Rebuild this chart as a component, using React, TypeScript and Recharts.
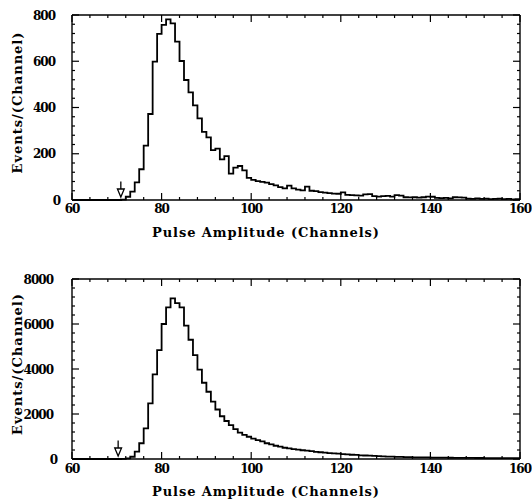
import { ComposedChart, Line, XAxis, YAxis, ReferenceDot } from 'recharts'

// Histogram bins are 1 channel wide, starting at channel 60.
const FIRST_CHANNEL = 60

const X_TICKS = [
  60, 64, 68, 72, 76, 80, 84, 88, 92, 96, 100, 104, 108, 112, 116, 120, 124, 128, 132, 136, 140,
  144, 148, 152, 156, 160,
]
const TOP_Y_TICKS = [
  0, 40, 80, 120, 160, 200, 240, 280, 320, 360, 400, 440, 480, 520, 560, 600, 640, 680, 720, 760, 800,
]
const BOTTOM_Y_TICKS = [
  0, 400, 800, 1200, 1600, 2000, 2400, 2800, 3200, 3600, 4000, 4400, 4800, 5200, 5600, 6000, 6400,
  6800, 7200, 7600, 8000,
]

// counts per channel, 60..159
const TOP_COUNTS = [
  0, 0, 0, 0, 0, 0, 0, 0, 0, 0, 0, 2,
  14, 36, 76, 133, 235, 372, 598, 718, 757, 781, 764, 685, 601, 519, 465, 409, 353, 295,
  271, 216, 222, 176, 190, 114, 140, 147, 128, 96, 87, 82, 78, 75, 69, 63, 56, 50,
  62, 50, 45, 42, 58, 40, 38, 34, 32, 30, 28, 27, 33, 22, 21, 20, 19, 24, 25, 17,
  15, 17, 18, 15, 21, 19, 12, 11, 12, 10, 12, 15, 14, 9, 8, 9, 7, 12, 11, 10,
  6, 5, 7, 5, 6, 4, 5, 6, 4, 5, 3, 4,
]
const BOTTOM_COUNTS = [
  0, 0, 0, 0, 0, 0, 0, 0, 0, 0, 0, 10,
  30, 100, 330, 700, 1360, 2470, 3760, 4840, 6000, 6740, 7140, 6930, 6740, 5930, 5300, 4620,
  3970, 3390, 2990, 2550, 2200, 1900, 1690, 1510, 1330, 1170, 1070, 990, 910, 840, 780, 700,
  650, 590, 550, 500, 470, 440, 420, 390, 370, 350, 320, 300, 285, 265, 250, 240, 220, 205,
  190, 180, 165, 155, 148, 140, 125, 115, 108, 102, 98, 92, 85, 80, 76, 74, 70, 68, 64, 60,
  58, 57, 55, 52, 50, 50, 48, 46, 45, 44, 42, 42, 40, 40, 39, 38, 37, 36,
]

// threshold arrows (channel)
const TOP_ARROW_CH = 70.9
const BOTTOM_ARROW_CH = 70.3

const X_TITLE = 'Pulse Amplitude (Channels)'
const Y_TITLE = 'Events/(Channel)'

const FONT = '"DejaVu Serif", serif'
const INK = '#000'

function toRows(counts: number[]) {
  const rows = counts.map((n, i) => ({ ch: FIRST_CHANNEL + i, n }))
  // closing point so the last bin gets its full width with stepAfter
  rows.push({ ch: FIRST_CHANNEL + counts.length, n: counts[counts.length - 1] })
  return rows
}

const MAJOR_LEN = 7
const MINOR_LEN = 3

interface PanelProps {
  counts: number[]
  yTicks: number[]
  yMax: number
  yMajor: number
  height: number
  marginTop: number
  xAxisHeight: number
  arrowCh: number
  yLabelGap: number
  zeroShift: number
  xLabelBaseline: number
  xTitleBaseline: number
}

function Panel(p: PanelProps) {
  const data = toRows(p.counts)

  const bottomTick = (props: any) => {
    const { x, y, payload } = props
    const v = payload.value as number
    const major = v % 20 === 0
    return (
      <g>
        <line x1={x} x2={x} y1={y} y2={y - (major ? MAJOR_LEN : MINOR_LEN)} stroke={INK} strokeWidth={1.2} />
        {major ? (
          <text
            x={x}
            y={y + p.xLabelBaseline}
            textAnchor="middle"
            fontFamily={FONT}
            fontWeight="bold"
            fontSize={12}
            letterSpacing={-1}
            fill={INK}
          >
            {v}
          </text>
        ) : null}
      </g>
    )
  }

  const topTick = (props: any) => {
    const { x, y, payload } = props
    const major = (payload.value as number) % 20 === 0
    return <line x1={x} x2={x} y1={y} y2={y + (major ? MAJOR_LEN : MINOR_LEN)} stroke={INK} strokeWidth={1.2} />
  }

  const leftTick = (props: any) => {
    const { x, y, payload } = props
    const v = payload.value as number
    const major = v % p.yMajor === 0
    return (
      <g>
        <line x1={x} x2={x + (major ? MAJOR_LEN : MINOR_LEN)} y1={y} y2={y} stroke={INK} strokeWidth={1.2} />
        {major ? (
          <text
            x={x - p.yLabelGap + (v === 0 ? p.zeroShift : 0)}
            y={y + 4.5}
            textAnchor="end"
            fontFamily={FONT}
            fontWeight="bold"
            fontSize={12}
            letterSpacing={-1}
            fill={INK}
          >
            {v}
          </text>
        ) : null}
      </g>
    )
  }

  const rightTick = (props: any) => {
    const { x, y, payload } = props
    const major = (payload.value as number) % p.yMajor === 0
    return <line x1={x} x2={x - (major ? MAJOR_LEN : MINOR_LEN)} y1={y} y2={y} stroke={INK} strokeWidth={1.2} />
  }

  const yTitle = (props: any) => {
    const vb = props.viewBox ?? { y: p.marginTop, height: 180 }
    const cx = 17.5
    const cy = vb.y + vb.height / 2 - 5
    return (
      <text
        x={cx}
        y={cy}
        transform={`rotate(-90 ${cx} ${cy})`}
        textAnchor="middle"
        dominantBaseline="central"
        fontFamily={FONT}
        fontWeight="bold"
        fontSize={13}
        letterSpacing={1}
        fill={INK}
      >
        {Y_TITLE}
      </text>
    )
  }

  const xTitle = (props: any) => {
    const vb = props.viewBox ?? { y: p.height - p.xAxisHeight }
    return (
      <text
        x={266}
        y={vb.y + p.xTitleBaseline}
        textAnchor="middle"
        fontFamily={FONT}
        fontWeight="bold"
        fontSize={13}
        letterSpacing={0.9}
        fill={INK}
      >
        {X_TITLE}
      </text>
    )
  }

  const arrow = (props: any) => {
    const { cx, cy } = props
    if (cx == null || cy == null) return <g />
    return (
      <g>
        <line x1={cx} x2={cx} y1={cy - 18.5} y2={cy - 11} stroke={INK} strokeWidth={1.3} />
        <path
          d={`M${cx - 3.4},${cy - 11} L${cx + 3.4},${cy - 11} L${cx},${cy - 3} Z`}
          fill="#fff"
          stroke={INK}
          strokeWidth={1.3}
        />
      </g>
    )
  }

  const axisLine = { stroke: INK, strokeWidth: 1.4 }

  return (
    <ComposedChart
      width={532}
      height={p.height}
      data={data}
      margin={{ top: p.marginTop - 1, right: 11, bottom: 0, left: 0 }}
    >
      <XAxis
        dataKey="ch"
        type="number"
        domain={[60, 160]}
        ticks={X_TICKS}
        interval={0}
        height={p.xAxisHeight}
        tickSize={0}
        tickMargin={0}
        tick={bottomTick}
        axisLine={axisLine}
        label={xTitle}
      />
      <XAxis
        xAxisId="top"
        orientation="top"
        dataKey="ch"
        type="number"
        domain={[60, 160]}
        ticks={X_TICKS}
        interval={0}
        height={1}
        tickSize={0}
        tickMargin={0}
        tick={topTick}
        axisLine={axisLine}
      />
      <YAxis
        type="number"
        domain={[0, p.yMax]}
        ticks={p.yTicks}
        interval={0}
        width={72}
        tickSize={0}
        tickMargin={0}
        tick={leftTick}
        axisLine={axisLine}
        label={yTitle}
      />
      <YAxis
        yAxisId="right"
        orientation="right"
        type="number"
        domain={[0, p.yMax]}
        ticks={p.yTicks}
        interval={0}
        width={1}
        tickSize={0}
        tickMargin={0}
        tick={rightTick}
        axisLine={axisLine}
      />
      {/* invisible twin so the top and right frame axes are in use */}
      <Line
        xAxisId="top"
        yAxisId="right"
        type="stepAfter"
        dataKey="n"
        stroke="none"
        dot={false}
        activeDot={false}
        legendType="none"
        isAnimationActive={false}
      />
      <Line
        type="stepAfter"
        dataKey="n"
        stroke={INK}
        strokeWidth={1.8}
        dot={false}
        activeDot={false}
        isAnimationActive={false}
      />
      <ReferenceDot x={p.arrowCh} y={0} r={0} shape={arrow} />
    </ComposedChart>
  )
}

export default function App() {
  return (
    <div style={{ position: 'absolute', left: 0, top: 0, width: 532, height: 501, background: '#fff' }}>
      <div style={{ position: 'absolute', left: 0, top: 0 }}>
        <Panel
          counts={TOP_COUNTS}
          yTicks={TOP_Y_TICKS}
          yMax={800}
          yMajor={200}
          height={250}
          marginTop={15}
          xAxisHeight={50}
          arrowCh={TOP_ARROW_CH}
          yLabelGap={17}
          zeroShift={5}
          xLabelBaseline={12.5}
          xTitleBaseline={37}
        />
      </div>
      <div style={{ position: 'absolute', left: 0, top: 250 }}>
        <Panel
          counts={BOTTOM_COUNTS}
          yTicks={BOTTOM_Y_TICKS}
          yMax={8000}
          yMajor={2000}
          height={251}
          marginTop={29}
          xAxisHeight={42}
          arrowCh={BOTTOM_ARROW_CH}
          yLabelGap={19}
          zeroShift={4}
          xLabelBaseline={14.3}
          xTitleBaseline={36.5}
        />
      </div>
    </div>
  )
}
